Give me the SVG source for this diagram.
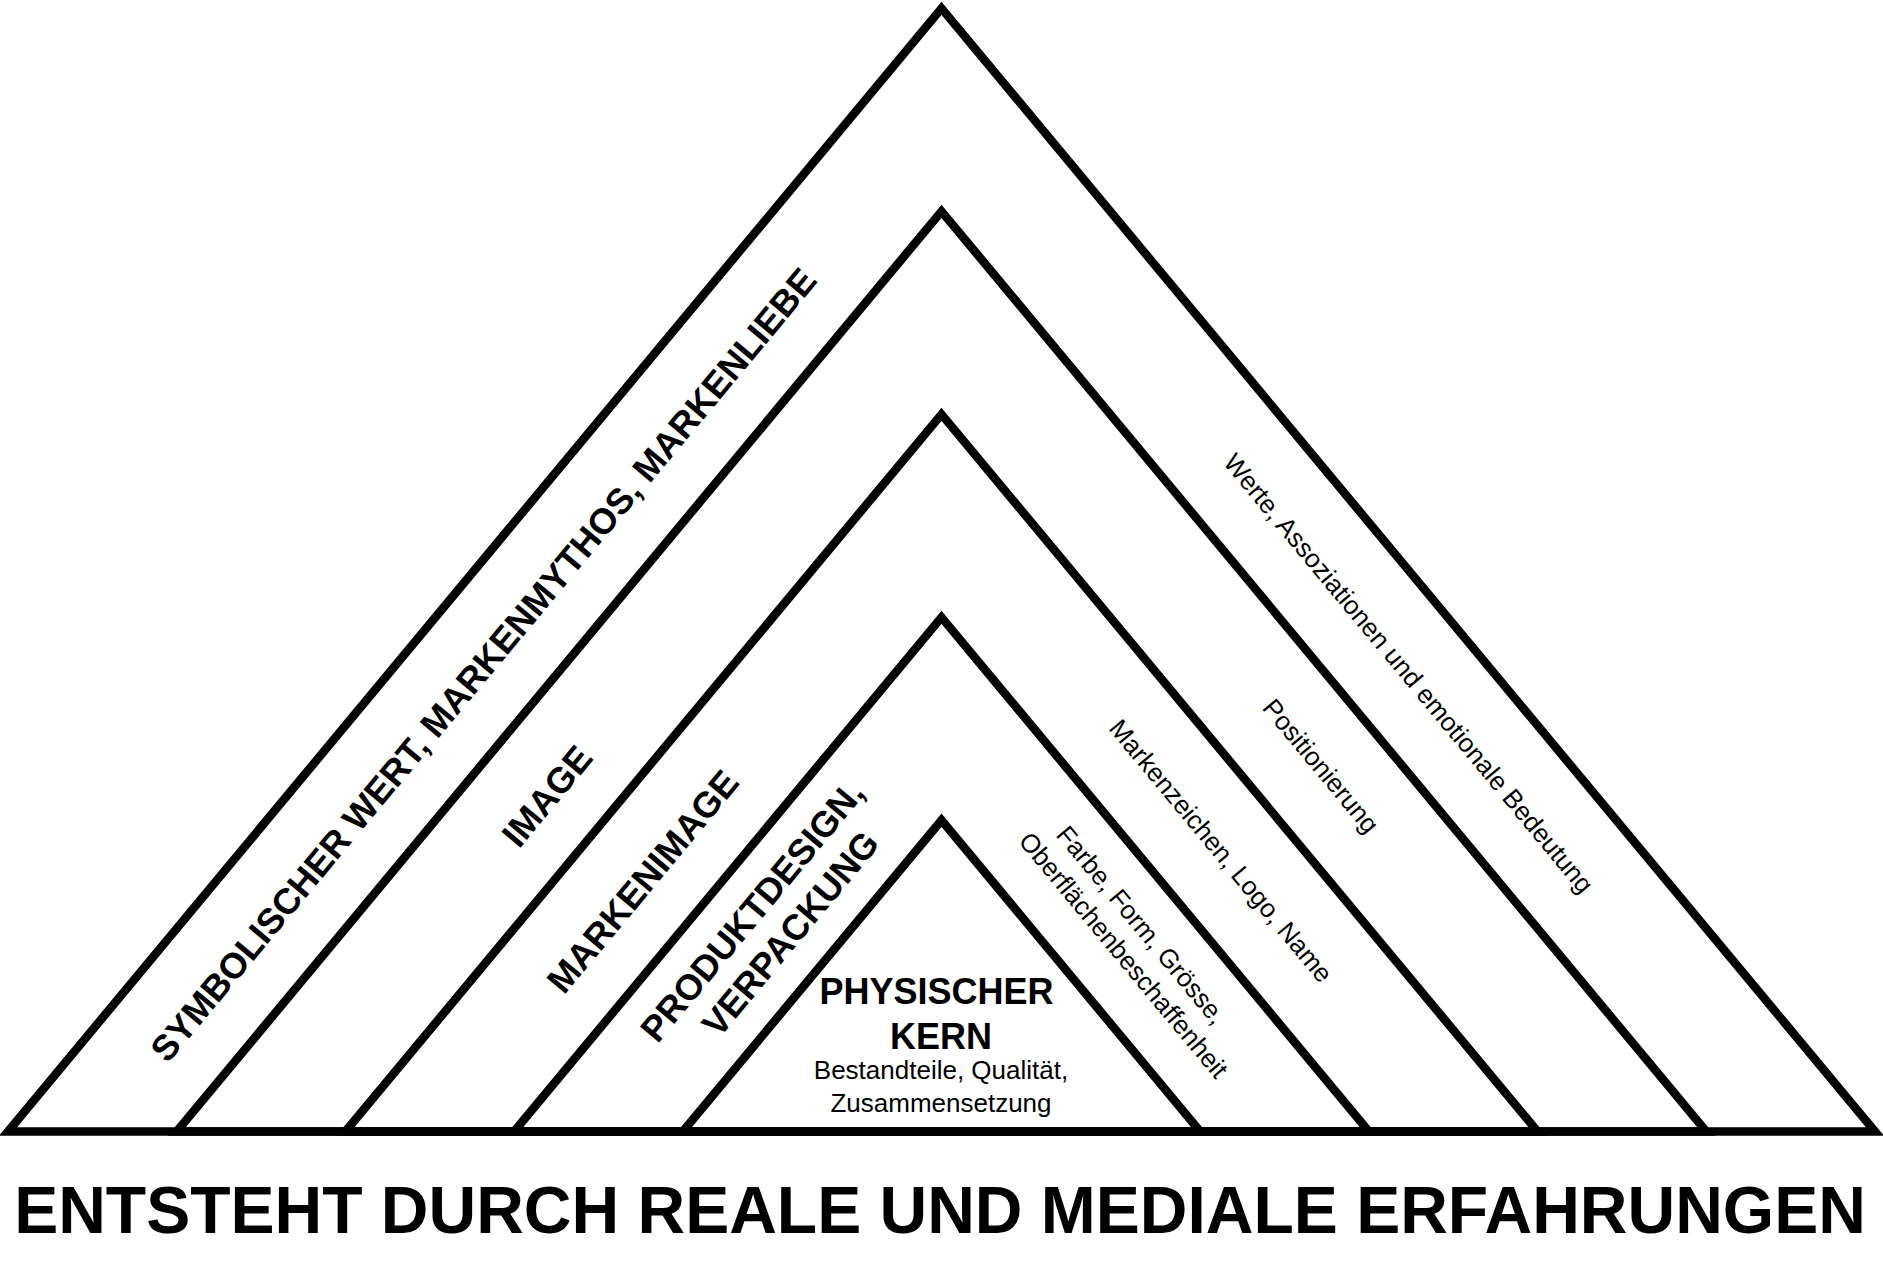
<svg xmlns="http://www.w3.org/2000/svg" width="1883" height="1265" viewBox="0 0 1883 1265">
  <style>
    .tri { fill: none; stroke: #000; stroke-width: 8.5; stroke-linejoin: miter; stroke-miterlimit: 10; }
    .lbl { font-family: "Liberation Sans", Arial, Helvetica, sans-serif; font-weight: bold; font-size: 36px; fill: #000; text-anchor: middle; }
    .note { font-family: "Liberation Sans", Arial, Helvetica, sans-serif; font-weight: normal; font-size: 26px; fill: #000; text-anchor: middle; }
    .title { font-family: "Liberation Sans", Arial, Helvetica, sans-serif; font-weight: bold; font-size: 66px; fill: #000; text-anchor: middle; }
  </style>
  <rect width="1883" height="1265" fill="#fff"/>

  <g id="layer-symbolic">
    <polygon class="tri" points="8,1131.5 941.5,8.3 1875,1131.5"/>
    <text class="lbl" transform="translate(483,664.5) rotate(-50.27)" x="0" y="12.9" font-size="36.3">SYMBOLISCHER WERT, MARKENMYTHOS, MARKENLIEBE</text>
    <text class="note" transform="translate(1406.8,674.9) rotate(50.27)" x="0" y="6.5" font-size="26.4">Werte, Assoziationen und emotionale Bedeutung</text>
  </g>

  <g id="layer-image">
    <polygon class="tri" points="176.7,1131.5 941.5,211.3 1706.3,1131.5"/>
    <text class="lbl" transform="translate(546.7,795.8) rotate(-50.27)" x="0" y="12.9">IMAGE</text>
    <text class="note" transform="translate(1319,767.5) rotate(50.27)" x="0" y="6.5">Positionierung</text>
  </g>

  <g id="layer-markenimage">
    <polygon class="tri" points="345.4,1131.5 941.5,414.3 1537.6,1131.5"/>
    <text class="lbl" transform="translate(642.4,881.2) rotate(-50.27)" x="0" y="12.9">MARKENIMAGE</text>
    <text class="note" transform="translate(1219,852.5) rotate(50.27)" x="0" y="6.5">Markenzeichen, Logo, Name</text>
  </g>

  <g id="layer-produktdesign">
    <polygon class="tri" points="514.1,1131.5 941.5,617.3 1368.9,1131.5"/>
    <text class="lbl" transform="translate(772.5,920) rotate(-50.27)">
      <tspan x="-1" y="-9.1">PRODUKTDESIGN,</tspan>
      <tspan x="1" y="34.9">VERPACKUNG</tspan>
    </text>
    <text class="note" transform="translate(1131.7,943) rotate(50.27)">
      <tspan x="-4" y="-9.9">Farbe, Form, Grösse,</tspan>
      <tspan x="4" y="22.9">Oberflächenbeschaffenheit</tspan>
    </text>
  </g>

  <g id="layer-kern">
    <polygon class="tri" points="682.8,1131.5 941.5,820.2 1200.2,1131.5"/>
    <text class="lbl" x="936.5" y="1004.3">PHYSISCHER</text>
    <text class="lbl" x="941" y="1049.3">KERN</text>
    <text class="note" x="941" y="1079.3">Bestandteile, Qualität,</text>
    <text class="note" x="941" y="1111.7">Zusammensetzung</text>
  </g>

  <g id="title">
    <text class="title" x="940" y="1233" font-size="66.4">ENTSTEHT DURCH REALE UND MEDIALE ERFAHRUNGEN</text>
  </g>
</svg>
